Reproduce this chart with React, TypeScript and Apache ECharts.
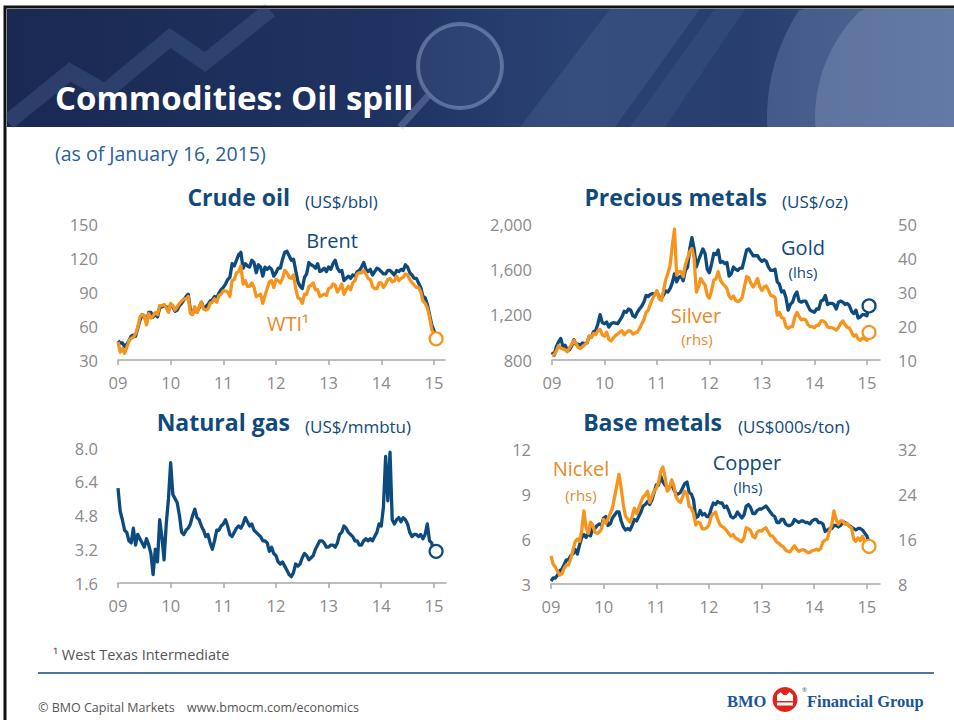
import React, { useEffect, useRef } from "react";
import * as echarts from "echarts";

// ---------- data (semi-monthly readings, Jan 1 2009 ... Jan 16 2015) ----------
const START_YEAR = 2009;
const STEP = 1 / 24;
const yearTicks = [2009, 2010, 2011, 2012, 2013, 2014, 2015];
const yearLabels = ["09", "10", "11", "12", "13", "14", "15"];

const brent = [
  47, 45, 45, 42, 44, 47, 51, 52, 51, 58, 65, 70, 69, 63, 72, 72, 68, 70, 68, 76, 77, 78, 77, 73,
  79, 77, 73, 74, 78, 80, 83, 86, 88, 74, 71, 76, 72, 76, 81, 76, 77, 79, 82, 83, 86, 85, 89, 92,
  94, 97, 101, 103, 115, 113, 118, 123, 125, 111, 115, 113, 112, 118, 116, 107, 114, 112, 104, 112, 110, 112, 110, 104,
  107, 111, 111, 119, 125, 126, 122, 118, 119, 109, 99, 95, 93, 103, 106, 116, 114, 113, 111, 115, 108, 109, 111, 108,
  112, 110, 115, 118, 111, 108, 109, 100, 102, 104, 102, 105, 104, 108, 109, 112, 116, 110, 108, 110, 105, 108, 111, 110,
  108, 106, 106, 109, 109, 107, 105, 109, 108, 110, 109, 114, 112, 107, 105, 102, 102, 98, 94, 86, 85, 79, 70, 61,
  56, 50,
];
const wti = [
  46, 37, 40, 36, 41, 47, 49, 50, 53, 59, 68, 70, 69, 61, 71, 67, 69, 72, 70, 78, 78, 79, 76, 72,
  80, 78, 74, 77, 80, 82, 84, 84, 86, 71, 70, 77, 72, 77, 81, 75, 74, 75, 80, 81, 84, 81, 87, 88,
  91, 91, 90, 86, 100, 101, 107, 108, 113, 97, 100, 95, 95, 98, 94, 86, 87, 88, 80, 87, 93, 99, 100, 94,
  101, 100, 98, 102, 109, 107, 103, 102, 105, 93, 85, 84, 80, 88, 88, 95, 96, 98, 92, 92, 86, 87, 88, 87,
  93, 94, 97, 96, 90, 93, 97, 88, 92, 95, 92, 98, 100, 106, 107, 107, 109, 106, 102, 101, 95, 93, 93, 98,
  98, 94, 97, 101, 102, 99, 100, 104, 100, 102, 103, 106, 105, 101, 98, 96, 94, 94, 90, 82, 80, 76, 68, 57,
  53, 48.7,
];
const gold = [
  870, 840, 920, 960, 990, 920, 930, 890, 890, 925, 980, 935, 940, 930, 950, 945, 950, 1010, 1000, 1050, 1060, 1120, 1200, 1130,
  1120, 1135, 1090, 1120, 1130, 1125, 1120, 1150, 1180, 1230, 1220, 1250, 1240, 1190, 1180, 1220, 1250, 1275, 1310, 1370, 1360, 1380, 1385, 1380,
  1400, 1360, 1340, 1375, 1410, 1400, 1430, 1480, 1560, 1490, 1530, 1540, 1500, 1590, 1620, 1780, 1880, 1780, 1620, 1680, 1730, 1780, 1740, 1600,
  1570, 1650, 1740, 1730, 1770, 1660, 1670, 1650, 1660, 1540, 1560, 1620, 1600, 1590, 1610, 1610, 1690, 1770, 1780, 1750, 1720, 1720, 1720, 1690,
  1670, 1685, 1670, 1620, 1590, 1590, 1600, 1490, 1470, 1400, 1410, 1350, 1240, 1290, 1310, 1370, 1400, 1320, 1310, 1320, 1320, 1280, 1240, 1230,
  1220, 1250, 1250, 1320, 1330, 1370, 1290, 1300, 1300, 1290, 1250, 1310, 1320, 1310, 1290, 1300, 1280, 1230, 1210, 1240, 1170, 1180, 1200, 1200,
  1190, 1277,
];
const silver = [
  11.3, 11.5, 12.6, 14.2, 13.5, 13.2, 13.0, 12.4, 13.6, 14.6, 15.8, 14.8, 13.7, 13.4, 14.0, 14.5, 15.2, 17.0, 16.6, 17.8, 17.5, 18.6, 19.0, 17.4,
  17.0, 18.2, 16.0, 15.6, 16.4, 17.2, 17.6, 18.2, 18.6, 17.4, 18.1, 18.6, 18.5, 17.6, 18.0, 18.2, 19.2, 20.6, 21.8, 24.0, 24.6, 26.5, 28.0, 29.2,
  30.4, 28.0, 27.5, 30.5, 33.5, 35.5, 37.8, 43.5, 48.5, 35.0, 36.0, 36.0, 34.5, 38.0, 40.0, 42.0, 42.8, 40.0, 30.0, 31.5, 34.0, 33.0, 32.0, 29.0,
  28.2, 30.5, 33.5, 33.8, 36.0, 33.5, 32.5, 31.8, 31.0, 28.8, 28.0, 28.8, 27.5, 27.2, 27.5, 28.5, 31.5, 34.5, 34.2, 32.5, 31.5, 32.5, 34.0, 31.5,
  30.5, 31.5, 31.8, 30.5, 29.0, 28.8, 28.4, 23.2, 24.0, 22.5, 22.2, 19.8, 19.3, 19.8, 19.8, 22.5, 24.0, 22.8, 21.8, 22.0, 21.8, 20.5, 19.8, 19.8,
  19.5, 20.2, 20.2, 21.5, 21.5, 21.0, 19.8, 19.5, 19.5, 19.2, 18.8, 19.5, 20.8, 21.5, 20.4, 19.6, 19.4, 18.2, 17.0, 17.4, 16.2, 15.8, 16.4, 16.2,
  15.8, 18.1,
];
const natGas = [
  6.1, 5.0, 4.6, 4.1, 4.0, 3.6, 3.5, 4.2, 3.4, 3.9, 3.7, 3.5, 3.3, 3.7, 3.4, 3.0, 2.0, 3.2, 2.6, 4.6, 3.8, 2.7, 4.4, 5.6,
  7.3, 5.8, 5.6, 5.4, 4.8, 4.0, 3.9, 4.1, 4.2, 4.4, 4.8, 5.1, 4.7, 4.6, 4.3, 4.1, 3.8, 3.9, 3.5, 3.2, 3.6, 4.1, 4.1, 4.3,
  4.4, 4.6, 4.3, 3.9, 3.8, 4.0, 4.2, 4.3, 4.2, 4.4, 4.7, 4.5, 4.3, 4.4, 4.1, 4.0, 3.9, 3.8, 3.6, 3.6, 3.5, 3.1, 3.3, 3.0,
  2.9, 2.6, 2.5, 2.6, 2.4, 2.2, 2.0, 1.9, 2.1, 2.5, 2.4, 2.5, 2.8, 3.0, 2.9, 2.7, 2.8, 2.9, 3.2, 3.4, 3.6, 3.6, 3.5, 3.3,
  3.3, 3.4, 3.4, 3.3, 3.5, 3.9, 4.0, 4.3, 4.2, 4.0, 3.9, 3.8, 3.6, 3.6, 3.4, 3.4, 3.6, 3.7, 3.6, 3.7, 3.6, 3.8, 4.0, 4.4,
  4.3, 5.2, 7.6, 5.5, 7.8, 4.6, 4.4, 4.6, 4.7, 4.5, 4.7, 4.6, 4.4, 4.0, 3.8, 3.9, 3.9, 3.8, 3.9, 3.7, 3.9, 4.4, 3.6, 3.5,
  3.0, 3.1,
];
const copper = [
  3.2, 3.4, 3.4, 3.6, 3.9, 4.0, 4.3, 4.6, 4.6, 4.9, 5.0, 5.3, 5.0, 5.6, 6.1, 6.3, 6.1, 6.4, 6.2, 6.7, 6.7, 6.9, 7.0, 6.9,
  7.4, 7.5, 6.9, 7.0, 7.4, 7.6, 7.8, 7.8, 7.2, 6.8, 6.6, 6.7, 6.6, 6.9, 7.3, 7.2, 7.5, 7.8, 8.2, 8.3, 8.5, 8.3, 8.6, 9.1,
  9.6, 9.6, 10.2, 9.8, 9.6, 9.4, 9.4, 9.7, 9.3, 9.0, 9.0, 9.1, 9.4, 9.7, 9.8, 9.1, 9.0, 8.6, 7.4, 7.5, 7.9, 7.6, 7.7, 7.5,
  7.5, 8.0, 8.4, 8.3, 8.5, 8.4, 8.4, 8.1, 8.2, 7.9, 7.5, 7.4, 7.5, 7.8, 7.6, 7.4, 7.6, 8.2, 8.3, 8.1, 7.7, 7.7, 7.9, 8.0,
  8.0, 8.1, 8.2, 8.0, 7.8, 7.6, 7.5, 7.1, 7.1, 7.3, 7.3, 7.0, 6.9, 6.9, 7.0, 7.3, 7.2, 7.1, 7.2, 7.2, 7.1, 7.1, 7.0, 7.2,
  7.3, 7.3, 7.1, 7.1, 7.0, 6.5, 6.6, 6.7, 6.7, 6.9, 6.9, 6.8, 6.9, 7.1, 7.1, 7.0, 6.9, 6.8, 6.7, 6.6, 6.7, 6.7, 6.6, 6.4,
  6.2, 5.8,
];
const nickel = [
  13.0, 11.5, 11.0, 10.2, 9.6, 9.8, 10.8, 11.4, 11.4, 12.5, 14.0, 15.5, 16.0, 15.6, 17.5, 21.0, 18.0, 17.0, 19.0, 18.5, 17.2, 17.0, 17.2, 17.8,
  19.5, 18.8, 19.6, 20.5, 21.5, 23.5, 25.5, 27.5, 25.0, 22.0, 20.0, 19.5, 19.0, 20.0, 21.5, 20.5, 21.5, 22.5, 23.5, 23.8, 24.5, 22.5, 23.5, 24.5,
  25.0, 26.0, 28.0, 28.8, 27.0, 24.5, 25.0, 26.5, 25.5, 23.5, 22.8, 22.5, 23.5, 24.5, 24.0, 21.8, 21.5, 20.5, 18.5, 19.0, 18.8, 17.8, 17.8, 18.0,
  18.5, 20.0, 20.5, 20.8, 19.5, 18.6, 18.2, 18.0, 17.5, 17.0, 16.5, 16.8, 16.2, 16.0, 15.7, 15.5, 16.2, 18.0, 17.8, 17.5, 16.5, 16.2, 17.2, 17.5,
  17.4, 17.8, 18.0, 17.3, 16.6, 16.5, 16.0, 15.4, 15.2, 14.8, 14.6, 14.0, 13.8, 13.7, 14.3, 14.8, 14.2, 13.8, 14.0, 14.1, 13.9, 13.6, 13.6, 13.9,
  14.0, 14.2, 14.0, 14.3, 15.5, 15.8, 16.0, 17.5, 18.5, 21.0, 19.5, 18.6, 19.2, 19.2, 18.6, 18.8, 18.2, 18.0, 16.0, 15.6, 16.2, 15.7, 16.5, 15.6,
  15.0, 14.7,
];

// ---------- styling ----------
const NAVY = "#0d4a7e";
const ORANGE = "#f7941d";
const TITLE_NAVY = "#104a7c";
const LABEL_ORANGE = "#e8892a";
const GREY = "#8a8a8a";
const AXIS = "#a9a9a9";
const FONT = "'Open Sans', 'Noto Sans', sans-serif";

const ts = (arr: number[]) => arr.map((v, i) => [START_YEAR + i * STEP, v]);
const lastPoint = (arr: number[]) => [[START_YEAR + (arr.length - 1) * STEP, arr[arr.length - 1]]];

const isYear = (v: number) => Math.abs(v - Math.round(v)) < 1e-6;

const xAxisFor = (gridIndex: number, max: number) => ({
  type: "value",
  gridIndex,
  min: 2009,
  max,
  interval: 1,
  axisLine: { show: true, onZero: false, lineStyle: { color: AXIS, width: 1.5 } },
  axisTick: { show: true, inside: false, length: 5, customValues: yearTicks, lineStyle: { color: AXIS, width: 1.5 } },
  axisLabel: {
    customValues: yearTicks,
    color: GREY,
    fontSize: 16.5,
    fontFamily: FONT,
    margin: 14,
    formatter: (v: number) => (isYear(v) ? yearLabels[yearTicks.indexOf(Math.round(v))] ?? "" : ""),
  },
  splitLine: { show: false },
});

const yAxisFor = (
  gridIndex: number,
  min: number,
  max: number,
  interval: number,
  position: string,
  formatter: (v: number) => string,
  margin = 20
) => ({
  type: "value",
  gridIndex,
  min,
  max,
  interval,
  position,
  axisLine: { show: false },
  axisTick: { show: false },
  splitLine: { show: false },
  axisLabel: { color: GREY, fontSize: 16.5, fontFamily: FONT, margin, formatter },
});

const lineS = (name: string, arr: number[], xi: number, yi: number, color: string, z: number) => ({
  type: "line",
  name,
  data: ts(arr),
  xAxisIndex: xi,
  yAxisIndex: yi,
  showSymbol: false,
  symbol: "none",
  silent: true,
  z,
  lineStyle: { color, width: 3.3, join: "round" },
  itemStyle: { color },
});

const endS = (arr: number[], xi: number, yi: number, color: string) => ({
  type: "scatter",
  data: lastPoint(arr),
  xAxisIndex: xi,
  yAxisIndex: yi,
  symbol: "circle",
  symbolSize: 13,
  silent: true,
  z: 10,
  itemStyle: { color: "#ffffff", borderColor: color, borderWidth: 2.2, opacity: 1 },
});

const txt = (
  text: string,
  x: number,
  y: number,
  o: { size?: number; color?: string; weight?: string | number; align?: string; family?: string } = {}
) => ({
  type: "text",
  x,
  y,
  silent: true,
  z: 20,
  style: {
    text,
    fill: o.color ?? TITLE_NAVY,
    fontSize: o.size ?? 16,
    fontWeight: o.weight ?? "normal",
    fontFamily: o.family ?? FONT,
    textAlign: o.align ?? "left",
    align: o.align ?? "left",
    textVerticalAlign: "middle",
    verticalAlign: "middle",
  },
});

// polygon of a circle clipped to a horizontal band (decoration)
const circleInBand = (cx: number, cy: number, r: number, y0: number, y1: number) => {
  const pts: number[][] = [];
  for (let k = 0; k < 120; k++) {
    const a = (k / 120) * Math.PI * 2;
    pts.push([cx + r * Math.cos(a), Math.min(y1, Math.max(y0, cy + r * Math.sin(a)))]);
  }
  return pts;
};

function buildOption() {
  const BAN_TOP = 9;
  const BAN_BOT = 127;
  const graphics: any[] = [
    // banner
    {
      type: "rect",
      shape: { x: 7, y: BAN_TOP, width: 950, height: BAN_BOT - BAN_TOP },
      silent: true,
      z: 1,
      style: {
        fill: {
          type: "linear",
          x: 0, y: 0, x2: 1, y2: 0,
          colorStops: [
            { offset: 0, color: "#1a2952" },
            { offset: 0.4, color: "#1f3362" },
            { offset: 0.6, color: "#2a4273" },
            { offset: 0.78, color: "#273e6f" },
            { offset: 1, color: "#3c5284" },
          ],
        },
      },
    },
    // diagonal light streaks
    { type: "polygon", silent: true, z: 2, shape: { points: [[520, BAN_BOT], [610, BAN_TOP], [700, BAN_TOP], [615, BAN_BOT]] }, style: { fill: "rgba(130,155,200,0.14)" } },
    { type: "polygon", silent: true, z: 2, shape: { points: [[630, BAN_BOT], [715, BAN_TOP], [745, BAN_TOP], [665, BAN_BOT]] }, style: { fill: "rgba(130,155,200,0.10)" } },
    // zigzag arrow
    { type: "polyline", silent: true, z: 2, shape: { points: [[8, 122], [70, 72], [105, 92], [170, 38], [205, 62], [270, 10]] }, style: { stroke: "rgba(110,135,185,0.22)", lineWidth: 16, fill: "none" } },
    // magnifier
    { type: "circle", silent: true, z: 2, shape: { cx: 460, cy: 66, r: 42 }, style: { fill: "rgba(120,145,190,0.12)", stroke: "rgba(170,190,225,0.40)", lineWidth: 4 } },
    { type: "line", silent: true, z: 2, shape: { x1: 428, y1: 96, x2: 400, y2: 127 }, style: { stroke: "rgba(150,170,210,0.32)", lineWidth: 7 } },
    // compass
    { type: "polygon", silent: true, z: 2, shape: { points: circleInBand(965, 118, 198, BAN_TOP, BAN_BOT) }, style: { fill: "rgba(110,132,175,0.40)" } },
    { type: "polygon", silent: true, z: 2, shape: { points: circleInBand(965, 118, 150, BAN_TOP, BAN_BOT) }, style: { fill: "rgba(150,168,205,0.30)" } },
    // frame
    { type: "rect", silent: true, z: 30, shape: { x: 5, y: 7, width: 980, height: 740 }, style: { fill: "none", stroke: "#111111", lineWidth: 3 } },

    // header texts
    txt("Commodities: Oil spill", 55, 97, { size: 33, weight: "bold", color: "#ffffff" }),
    txt("(as of January 16, 2015)", 55, 153, { size: 19.5, color: "#2a609a" }),

    // chart titles
    txt("Crude oil", 290, 197, { size: 23, weight: "bold", align: "right" }),
    txt("(US$/bbl)", 305, 201, { size: 17 }),
    txt("Precious metals", 767, 197, { size: 23, weight: "bold", align: "right" }),
    txt("(US$/oz)", 782, 201, { size: 17 }),
    txt("Natural gas", 290, 422, { size: 23, weight: "bold", align: "right" }),
    txt("(US$/mmbtu)", 305, 426, { size: 17 }),
    txt("Base metals", 722, 422, { size: 23, weight: "bold", align: "right" }),
    txt("(US$000s/ton)", 738, 426, { size: 17 }),

    // series annotations
    txt("Brent", 332, 240, { size: 20, align: "center" }),
    txt("WTI¹", 267, 323, { size: 20, color: LABEL_ORANGE }),
    txt("Gold", 803, 247, { size: 20, align: "center" }),
    txt("(lhs)", 803, 272, { size: 15, align: "center" }),
    txt("Silver", 696, 315, { size: 20, align: "center", color: LABEL_ORANGE }),
    txt("(rhs)", 697, 339, { size: 15, align: "center", color: LABEL_ORANGE }),
    txt("Nickel", 581, 468, { size: 20, align: "center", color: LABEL_ORANGE }),
    txt("(rhs)", 581, 495, { size: 15, align: "center", color: LABEL_ORANGE }),
    txt("Copper", 747, 462, { size: 20, align: "center" }),
    txt("(lhs)", 748, 487, { size: 15, align: "center" }),

    // footnote & footer
    txt("¹ West Texas Intermediate", 53, 654, { size: 14.5, color: "#555555" }),
    { type: "rect", silent: true, z: 20, shape: { x: 38, y: 672, width: 896, height: 2 }, style: { fill: "#4a78a3" } },
    txt("© BMO Capital Markets", 38, 707, { size: 12.5, color: "#555555" }),
    txt("www.bmocm.com/economics", 187, 707, { size: 12.5, color: "#555555" }),
    txt("BMO", 727, 701, { size: 16.5, weight: "bold", color: "#1b5596", family: "'Liberation Serif', 'DejaVu Serif', serif" }),
    { type: "circle", silent: true, z: 20, shape: { cx: 785, cy: 699.5, r: 12.5 }, style: { fill: "#e2231a" } },
    {
      type: "polygon", silent: true, z: 21,
      shape: { points: [[777, 701], [777, 695], [780.5, 692], [783.5, 695], [786.5, 695], [789.5, 692], [793, 695], [793, 701]] },
      style: { fill: "#ffffff" },
    },
    { type: "rect", silent: true, z: 21, shape: { x: 777, y: 702.5, width: 16, height: 3 }, style: { fill: "#ffffff" } },
    txt("®", 802, 690, { size: 6, color: "#1b5596" }),
    txt("Financial Group", 807, 701, { size: 16.5, weight: "bold", color: "#1b5596", family: "'Liberation Serif', 'DejaVu Serif', serif" }),
  ];

  const gridBase = { containLabel: false, outerBoundsMode: "none" };

  return {
    animation: false,
    backgroundColor: "#ffffff",
    textStyle: { fontFamily: FONT },
    grid: [
      { ...gridBase, left: 118, top: 224, width: 327, height: 136 },
      { ...gridBase, left: 552, top: 224, width: 328, height: 136 },
      { ...gridBase, left: 118, top: 448, width: 328, height: 135 },
      { ...gridBase, left: 551, top: 449, width: 329, height: 135 },
    ],
    xAxis: [xAxisFor(0, 2015.21), xAxisFor(1, 2015.25), xAxisFor(2, 2015.23), xAxisFor(3, 2015.25)],
    yAxis: [
      yAxisFor(0, 30, 150, 30, "left", (v) => String(v)),
      yAxisFor(1, 800, 2000, 400, "left", (v) => v.toLocaleString("en-US")),
      yAxisFor(1, 10, 50, 10, "right", (v) => String(v), 18),
      yAxisFor(2, 1.6, 8.0, 1.6, "left", (v) => v.toFixed(1)),
      yAxisFor(3, 3, 12, 3, "left", (v) => String(Math.round(v))),
      yAxisFor(3, 8, 32, 8, "right", (v) => String(Math.round(v)), 18),
    ],
    series: [
      lineS("Brent", brent, 0, 0, NAVY, 3),
      lineS("WTI", wti, 0, 0, ORANGE, 4),
      endS(wti, 0, 0, ORANGE),
      lineS("Gold", gold, 1, 1, NAVY, 3),
      lineS("Silver", silver, 1, 2, ORANGE, 4),
      endS(gold, 1, 1, NAVY),
      endS(silver, 1, 2, ORANGE),
      lineS("Natural gas", natGas, 2, 3, NAVY, 3),
      endS(natGas, 2, 3, NAVY),
      lineS("Copper", copper, 3, 4, NAVY, 3),
      lineS("Nickel", nickel, 3, 5, ORANGE, 4),
      endS(nickel, 3, 5, ORANGE),
    ],
    graphic: { elements: graphics },
  };
}

export default function App() {
  const ref = useRef<HTMLDivElement>(null);
  useEffect(() => {
    document.body.style.margin = "0";
    if (!ref.current) return;
    const chart = echarts.init(ref.current, undefined, { renderer: "svg" });
    chart.setOption(buildOption() as any);
    return () => chart.dispose();
  }, []);
  return (
    <div
      ref={ref}
      style={{ position: "absolute", left: 0, top: 0, width: 954, height: 720, background: "#ffffff" }}
    />
  );
}
